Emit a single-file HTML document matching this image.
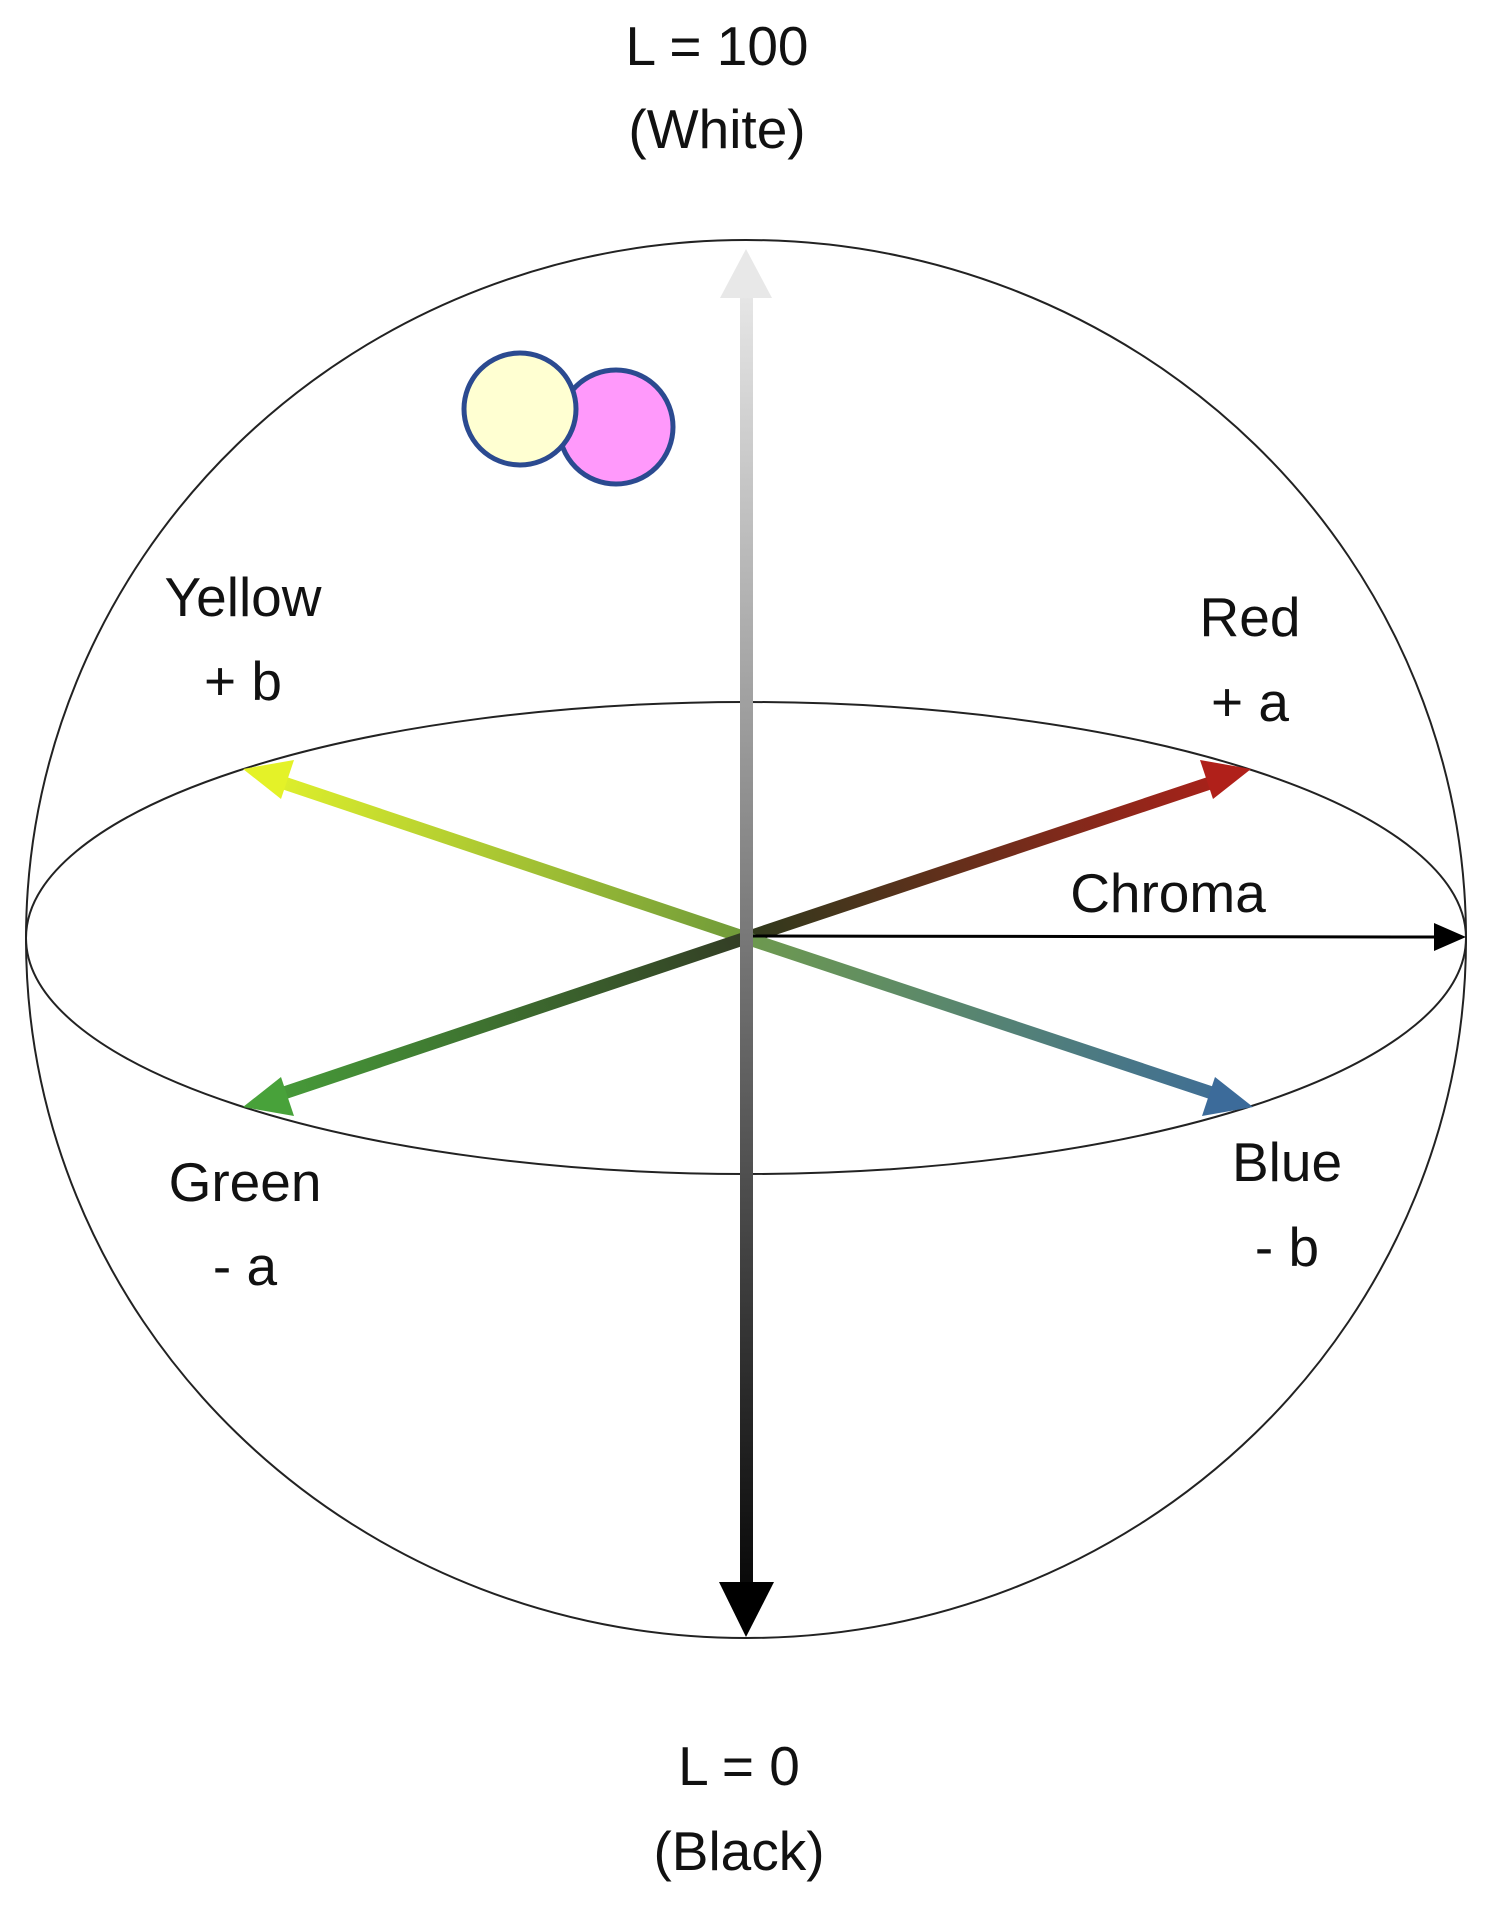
<!DOCTYPE html>
<html><head><meta charset="utf-8"><style>html,body{margin:0;padding:0;background:#fff}svg{display:block}</style></head>
<body>
<svg width="1506" height="1912" viewBox="0 0 1506 1912" xmlns="http://www.w3.org/2000/svg" font-family="Liberation Sans, sans-serif" font-size="55" fill="#111">
<defs>
<linearGradient id="gv" x1="0" y1="249" x2="0" y2="1637" gradientUnits="userSpaceOnUse"><stop offset="0" stop-color="#eeeeee"/><stop offset="0.5" stop-color="#777"/><stop offset="1" stop-color="#000"/></linearGradient>
<linearGradient id="gy" x1="746" y1="938" x2="243" y2="769" gradientUnits="userSpaceOnUse"><stop offset="0" stop-color="#6f9a3a"/><stop offset="1" stop-color="#e6f52a"/></linearGradient>
<linearGradient id="gr" x1="746" y1="938" x2="1251" y2="769" gradientUnits="userSpaceOnUse"><stop offset="0" stop-color="#2f3a1c"/><stop offset="1" stop-color="#b0201a"/></linearGradient>
<linearGradient id="gg" x1="746" y1="938" x2="243" y2="1107" gradientUnits="userSpaceOnUse"><stop offset="0" stop-color="#333d25"/><stop offset="1" stop-color="#48a23a"/></linearGradient>
<linearGradient id="gb" x1="746" y1="938" x2="1253" y2="1107" gradientUnits="userSpaceOnUse"><stop offset="0" stop-color="#6e9a4e"/><stop offset="1" stop-color="#3c6b9a"/></linearGradient>
</defs>
<ellipse cx="746" cy="939" rx="720" ry="699" fill="none" stroke="#222" stroke-width="2"/>
<ellipse cx="746" cy="938" rx="720" ry="236" fill="none" stroke="#222" stroke-width="2"/>
<line x1="746" y1="938" x2="275" y2="780" stroke="url(#gy)" stroke-width="13"/>
<polygon points="243,769 294,760 281,799" fill="#e4f228"/>
<line x1="746" y1="938" x2="1219" y2="780" stroke="url(#gr)" stroke-width="13"/>
<polygon points="1251,769 1200,760 1213,799" fill="#b0201a"/>
<line x1="746" y1="938" x2="275" y2="1096" stroke="url(#gg)" stroke-width="13"/>
<polygon points="243,1107 281,1077 294,1116" fill="#48a23a"/>
<line x1="746" y1="938" x2="1221" y2="1096" stroke="url(#gb)" stroke-width="13"/>
<polygon points="1253,1107 1215,1077 1202,1116" fill="#3c6b9a"/>
<line x1="746" y1="936" x2="1440" y2="937" stroke="#000" stroke-width="3"/>
<polygon points="1466,937 1434,923 1434,951" fill="#000"/>
<rect x="740" y="285" width="13" height="1300" fill="url(#gv)"/>
<polygon points="746,249 720,298 772,298" fill="#e8e8e8"/>
<polygon points="746,1637 719,1582 774,1582" fill="#000"/>
<circle cx="616" cy="427" r="57" fill="#ff99fb" stroke="#2b4a90" stroke-width="5"/>
<circle cx="520" cy="409" r="56" fill="#ffffd2" stroke="#2b4a90" stroke-width="5"/>
<g text-anchor="middle">
<text x="717" y="65">L = 100</text>
<text x="717" y="148">(White)</text>
<text x="243" y="616">Yellow</text>
<text x="243" y="700">+ b</text>
<text x="1250" y="636">Red</text>
<text x="1250" y="721">+ a</text>
<text x="1168" y="912">Chroma</text>
<text x="245" y="1201">Green</text>
<text x="245" y="1285">- a</text>
<text x="1287" y="1181">Blue</text>
<text x="1287" y="1266">- b</text>
<text x="739" y="1785">L = 0</text>
<text x="739" y="1870">(Black)</text>
</g>
</svg>
</body></html>
